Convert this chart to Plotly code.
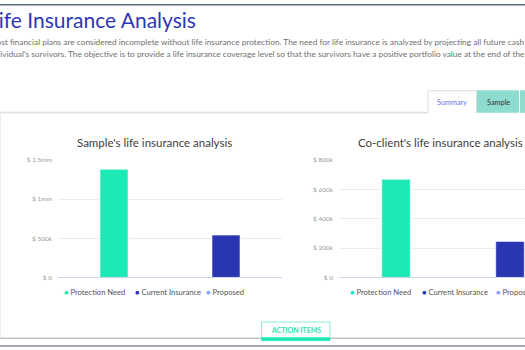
import plotly.graph_objects as go

# ---- data -------------------------------------------------------------
SERIES = ["Protection Need", "Current Insurance", "Proposed"]
SAMPLE_VALUES = [1380000, 540000, None]
COCLIENT_VALUES = [667000, 245000, None]

SAMPLE_TICKS = [0, 500000, 1000000, 1500000]
SAMPLE_TICK_LABELS = ["$ 0", "$ 500k", "$ 1mm", "$ 1.5mm"]
COCLIENT_TICKS = [0, 200000, 400000, 600000, 800000]
COCLIENT_TICK_LABELS = ["$ 0", "$ 200k", "$ 400k", "$ 600k", "$ 800k"]

PAGE_TITLE = "Life Insurance Analysis"
INTRO_LINES = [
    "Most financial plans are considered incomplete without life insurance protection. "
    "The need for life insurance is analyzed by projecting all future cash flows",
    "individual's survivors. The objective is to provide a life insurance coverage level "
    "so that the survivors have a positive portfolio value at the end of the",
]
CHART_TITLES = ["Sample's life insurance analysis", "Co-client's life insurance analysis"]
TABS = ["Summary", "Sample"]
BUTTON_TEXT = "ACTION ITEMS"

# ---- style --------------------------------------------------------------
COLORS = ["#1de9b6", "#2a35b2", "#8c9eff"]
FONT = "Lato"
W, H = 525, 350


def px(x):
    return x / W


def py(y):
    return 1 - y / H


def label(text, x, y, size, color, xanchor="center", **font_extra):
    return dict(text=text, xref="paper", yref="paper", x=px(x), y=py(y),
                xanchor=xanchor, yanchor="middle", showarrow=False,
                font=dict(family=FONT, size=size, color=color, **font_extra))


fig = go.Figure()

for axis_no, values in ((1, SAMPLE_VALUES), (2, COCLIENT_VALUES)):
    suffix = "" if axis_no == 1 else str(axis_no)
    for name, val, col in zip(SERIES, values, COLORS):
        if val is None:
            continue
        fig.add_trace(go.Bar(
            x=[name], y=[val], name=name, width=0.25,
            marker=dict(color=col, line=dict(color="rgba(255,255,255,0.55)", width=1)),
            xaxis="x" + suffix, yaxis="y" + suffix, showlegend=False,
            hoverinfo="skip",
        ))

axis_common = dict(
    type="category", categoryorder="array", categoryarray=SERIES,
    showticklabels=False, ticks="", showgrid=False, zeroline=False,
    showline=True, linecolor="#ccd6eb", linewidth=1, fixedrange=True,
)
yaxis_common = dict(
    showgrid=True, gridcolor="#e9ecf1", gridwidth=1, zeroline=False,
    ticks="", showline=False, ticklabelstandoff=5,
    tickfont=dict(family=FONT, size=6.5, color="#9a9a9a"), fixedrange=True,
)

fig.update_layout(
    width=W, height=H,
    margin=dict(l=0, r=0, t=0, b=0),
    paper_bgcolor="white", plot_bgcolor="white",
    barmode="overlay", showlegend=False,
    font=dict(family=FONT),
    xaxis=dict(domain=[px(58), px(282)], range=[-0.5, 1.5], anchor="y", **axis_common),
    yaxis=dict(domain=[py(279), py(159)], range=[0, 1500000], anchor="x",
               tickvals=SAMPLE_TICKS, ticktext=SAMPLE_TICK_LABELS, **yaxis_common),
    xaxis2=dict(domain=[px(339), 1], range=[-0.5, (525 - 339) / 114 - 0.5], anchor="y2",
                **axis_common),
    yaxis2=dict(domain=[py(279), py(159)], range=[0, 800000], anchor="x2",
                tickvals=COCLIENT_TICKS, ticktext=COCLIENT_TICK_LABELS, **yaxis_common),
)

shapes = []
annotations = []

# page frame: top rule
shapes.append(dict(type="rect", xref="paper", yref="paper", x0=0, x1=1,
                   y0=py(1.5), y1=py(0), fillcolor="#5d6a80", line_width=0))

# page heading and intro paragraph (their left part scrolls off-screen)
annotations.append(label(PAGE_TITLE, -14.5, 15.5, 21, "#2d37b5", xanchor="left"))
for i, line in enumerate(INTRO_LINES):
    annotations.append(label(line, -13, 39 + 12 * i, 8.3, "#707070", xanchor="left"))

# tab strip
shapes.append(dict(type="line", xref="paper", yref="paper", x0=0, x1=px(428),
                   y0=py(110.5), y1=py(110.5), line=dict(color="#d6d6d6", width=1)))
shapes.append(dict(type="line", xref="paper", yref="paper", x0=0, x1=px(428),
                   y0=py(111.5), y1=py(111.5), line=dict(color="#eeeeee", width=1)))
shapes.append(dict(type="path", xref="paper", yref="paper",
                   path=f"M {px(428)} {py(111)} L {px(428)} {py(88.5)} L {px(476.5)} {py(88.5)} L {px(476.5)} {py(111)}",
                   line=dict(color="#dddddd", width=1)))
shapes.append(dict(type="rect", xref="paper", yref="paper", x0=px(477), x1=px(519),
                   y0=py(111), y1=py(88), fillcolor="#8edbd0", line_width=0))
shapes.append(dict(type="rect", xref="paper", yref="paper", x0=px(520), x1=px(530),
                   y0=py(111), y1=py(88), fillcolor="#8edbd0", line_width=0))
annotations.append(label(TABS[0], 452, 100, 7.3, "#6677dd"))
annotations.append(label(TABS[1], 498, 100, 7.3, "#333333"))

# card left edge
shapes.append(dict(type="line", xref="paper", yref="paper", x0=px(0.5), x1=px(0.5),
                   y0=py(112), y1=py(341), line=dict(color="#ececec", width=1)))

# chart titles
for title, cx in zip(CHART_TITLES, (154, 440)):
    annotations.append(label(title, cx, 141.5, 11.5, "#404040"))

# legends (one row under each chart)
for xs in ((62, 133, 204), (348, 420, 494)):
    for name, col, x0 in zip(SERIES, COLORS, xs):
        annotations.append(label(f"<span style='color:{col}'>●</span> {name}",
                                 x0, 293.5, 7.6, "#555555", xanchor="left"))

# footer rules and action button
shapes.append(dict(type="line", xref="paper", yref="paper", x0=0, x1=1,
                   y0=py(341), y1=py(341), line=dict(color="#c2c2c2", width=1.5)))
shapes.append(dict(type="rect", xref="paper", yref="paper", x0=0, x1=1,
                   y0=py(350), y1=py(348), fillcolor="#a3a9b3", line_width=0))
shapes.append(dict(type="rect", xref="paper", yref="paper", x0=px(261.5), x1=px(330),
                   y0=py(343.5), y1=py(324.5), fillcolor="white",
                   line=dict(color="#8eeed6", width=1)))
shapes.append(dict(type="rect", xref="paper", yref="paper", x0=px(261.5), x1=px(330),
                   y0=py(343.5), y1=py(340), fillcolor="#1de9b6", line_width=0))
annotations.append(label(BUTTON_TEXT, 295.7, 333, 7, "#2fe3b3", weight="bold"))

fig.update_layout(shapes=shapes, annotations=annotations)

fig.write_html("out.html", config={"displayModeBar": False})
